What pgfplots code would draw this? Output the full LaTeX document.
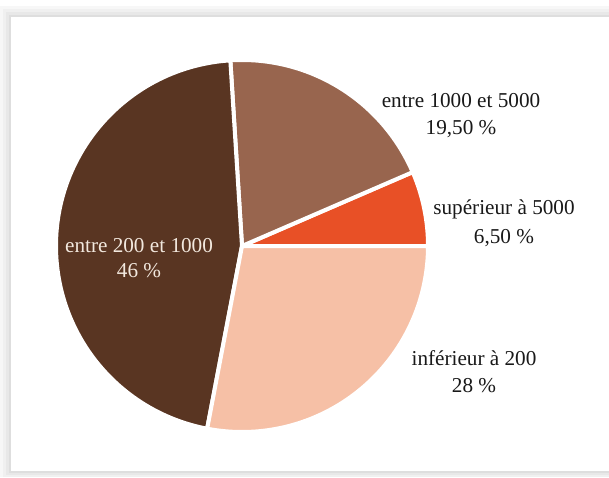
\documentclass[border=0pt]{standalone}
\usepackage{pgfplots}
\pgfplotsset{compat=1.18}
\usepackage{fontspec}
\setmainfont{Liberation Serif}
\definecolor{cOrange}{RGB}{232,80,38}
\definecolor{cMid}{RGB}{152,101,78}
\definecolor{cDark}{RGB}{89,53,34}
\definecolor{cPeach}{RGB}{246,192,166}
\definecolor{txt}{RGB}{25,25,25}
\definecolor{wtxt}{RGB}{242,232,222}
\newcommand\lblfont{\fontsize{21.2pt}{27pt}\selectfont}
\tikzset{lbl/.style={inner sep=0pt, anchor=base}}
\begin{document}
\begin{tikzpicture}
\begin{axis}[x=1pt,y=1pt,xmin=0,xmax=609,ymin=0,ymax=477,hide axis,scale only axis,clip=false]
% frame shadow
\fill[black!3] (axis cs:0,0) rectangle (axis cs:609,471);
\fill[black!6] (axis cs:3,0) rectangle (axis cs:609,468);
\fill[black!9] (axis cs:6,2) rectangle (axis cs:609,465);
\fill[black!13] (axis cs:9,4) rectangle (axis cs:609,462);
\fill[white] (axis cs:11,6) rectangle (axis cs:609,460);
% pie
\def\acc{0}
\foreach \v/\c in {6.5/cOrange, 19.5/cMid, 46/cDark, 28/cPeach}{
  \pgfmathsetmacro\a{\acc*3.6}
  \pgfmathsetmacro\b{(\acc+\v)*3.6}
  \edef\tmp{\noexpand\fill[\c,draw=white,line width=4pt,line join=miter] (axis cs:242,231) -- ++(\a:186pt) arc[start angle=\a,end angle=\b,radius=186pt] -- cycle;}
  \tmp
  \pgfmathsetmacro\newacc{\acc+\v}
  \global\let\acc\newacc
}
% labels
\node[lbl,txt] at (axis cs:461,369) {\lblfont entre 1000 et 5000};
\node[lbl,txt] at (axis cs:461,342) {\lblfont 19,50 \%};
\node[lbl,txt] at (axis cs:504,262) {\lblfont supérieur à 5000};
\node[lbl,txt] at (axis cs:504,234) {\lblfont 6,50 \%};
\node[lbl,txt] at (axis cs:474,112) {\lblfont inférieur à 200};
\node[lbl,txt] at (axis cs:474,85) {\lblfont 28 \%};
\node[lbl,wtxt] at (axis cs:139,225) {\lblfont entre 200 et 1000};
\node[lbl,wtxt] at (axis cs:139,200) {\lblfont 46 \%};
\end{axis}
\pgfresetboundingbox
\path (current axis.south west) rectangle (current axis.north east);
\end{tikzpicture}
\end{document}
